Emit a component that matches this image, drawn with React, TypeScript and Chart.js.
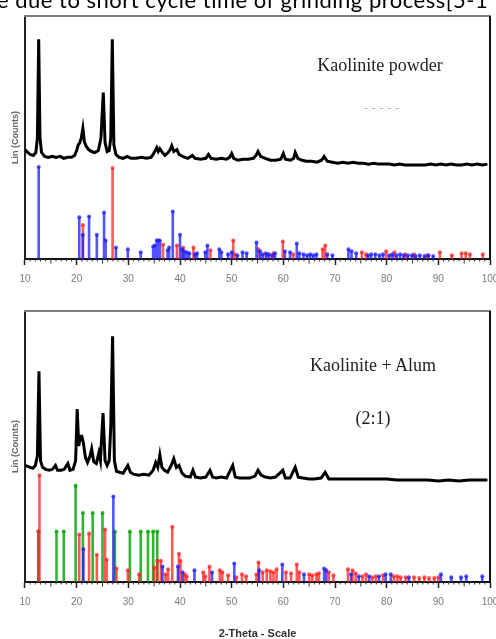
import React, { useEffect, useRef } from "react";
import { Chart, registerables } from "chart.js";
Chart.register(...registerables);

// ---------- DATA (2-Theta in degrees, intensity in arbitrary counts) ----------
const axisMin = 10;
const axisMax = 100;
const axisStep = 10;

const topCurveX = [10.0,10.5,11.0,11.6,12.1,12.4,12.65,12.9,13.2,13.8,14.5,15.3,16.0,16.8,17.5,18.3,19.0,19.6,20.0,20.3,20.6,20.9,21.2,21.5,21.8,22.3,22.9,23.5,24.2,24.7,25.15,25.5,25.9,26.3,26.6,26.9,27.2,27.6,28.2,29.0,29.8,30.5,31.5,32.5,33.5,34.4,34.9,35.5,35.8,36.1,36.6,37.1,37.7,38.1,38.4,38.8,39.4,39.8,40.5,41.5,42.4,42.9,44.0,45.0,45.5,46.0,47.0,48.0,49.0,49.6,50.0,50.4,51.2,52.2,53.2,54.2,54.7,55.1,55.6,56.5,57.5,58.5,59.5,60.0,60.4,61.4,62.0,62.3,62.8,63.6,64.5,65.5,66.5,67.4,67.9,68.5,69.5,70.5,71.5,72.5,73.5,74.5,75.5,76.5,77.5,78.5,79.5,80.5,81.5,82.5,83.5,84.5,85.5,86.5,87.5,88.5,89.5,90.5,91.5,92.5,93.5,94.5,95.5,96.5,97.5,98.5,99.5];
const topCurveY = [113,110,108,107,110,125,227,125,110,106,105,106,105,106,104,105,105,107,112,118,120,125,135,121,117,113,111,110,112,125,172,120,111,112,125,227,118,108,105,104,106,104,104,105,104,105,109,115,111,114,110,107,110,113,117,111,113,108,106,104,107,104,103,104,108,104,103,104,103,105,109,104,102,103,103,104,107,111,106,104,102,102,103,109,103,102,104,110,104,102,101,101,100,102,106,101,100,99,100,99,100,99,99,98,99,98,98,98,97,98,97,97,97,97,97,98,97,98,97,98,97,97,98,97,98,97,98];

const topBlueX = [12.65,20.5,21.2,22.4,23.9,25.3,25.6,27.6,29.9,32.4,34.8,35.1,35.5,35.8,36.1,37.6,37.9,38.6,40.0,40.4,40.8,41.3,41.8,42.9,43.3,44.9,45.3,47.6,48.0,49.3,50.0,51.1,52.1,52.9,54.8,55.5,56.0,56.6,57.2,57.8,58.4,60.3,61.3,62.6,63.1,63.9,64.6,65.2,65.8,66.4,68.5,69.5,72.6,73.2,74.1,76.4,77.0,77.8,78.6,79.3,80.5,81.1,81.9,82.6,83.3,84.1,84.9,85.6,86.4,87.3,88.1,89.0];
const topBlueH = [95,43,25,44,25,48,19,12,10,7,13,14,19,19,19,9,12,49,25,10,8,7,6,5,6,7,14,10,7,5,7,4,7,6,17,8,5,6,5,4,6,8,7,16,6,5,4,5,4,5,5,4,10,8,6,4,5,5,4,5,4,5,4,5,4,4,4,3,4,3,4,3];
const topRedX = [21.2,26.95,36.7,39.4,40.6,42.6,45.9,50.3,50.6,55.2,56.9,58.1,59.9,61.9,67.6,68.1,75.2,76.0,79.9,81.5,83.6,85.3,87.8,90.3,92.6,94.5,95.3,96.1,98.6];
const topRedH = [35,94,15,14,12,12,9,19,5,10,5,6,18,5,10,14,7,5,8,7,5,5,4,7,4,6,6,5,5];

const botCurveX = [10.0,10.5,11.0,11.5,12.0,12.4,12.7,13.0,13.4,14.0,14.7,15.3,15.9,16.3,17.0,17.6,18.3,18.7,19.3,19.8,20.1,20.4,20.7,21.0,21.3,21.7,22.1,22.6,22.9,23.3,23.8,24.3,24.6,25.1,25.5,25.9,26.3,26.6,26.95,27.3,27.7,28.3,29.0,29.9,30.4,31.0,32.0,33.0,34.0,34.8,35.3,35.7,36.1,36.5,37.0,37.6,38.3,38.8,39.3,39.8,40.4,41.0,42.0,42.5,43.0,44.0,45.0,45.8,46.3,47.0,48.0,49.0,50.2,50.7,51.5,52.5,53.5,54.5,55.1,55.7,56.5,57.5,58.5,59.9,60.4,61.3,62.3,62.9,63.8,65.0,66.0,67.3,68.1,68.8,70.0,72.0,74.0,76.0,78.0,80.0,82.0,84.0,86.0,88.0,90.0,92.0,94.0,96.0,98.0,99.5];
const botCurveY = [120,119,118,117,120,130,217,125,118,116,115,116,120,115,115,116,122,115,116,125,178,140,150,150,143,128,123,130,137,124,122,133,125,174,125,120,125,160,253,125,114,113,112,120,113,111,110,111,110,115,123,118,131,118,115,113,120,127,118,120,112,109,108,115,108,107,108,115,108,107,108,107,120,108,107,107,107,109,115,110,108,107,108,115,107,107,118,108,107,106,106,107,113,106,106,106,106,106,106,106,105,105,105,105,104,105,104,105,105,105];

const botRedX = [12.6,12.8,20.5,22.4,23.9,25.5,25.8,27.7,29.9,32.1,35.0,35.6,36.3,37.2,37.7,38.5,39.8,40.1,40.9,41.3,44.5,44.9,45.7,47.7,48.2,49.3,50.9,52.0,52.8,54.8,55.2,56.0,56.8,57.5,58.1,58.7,60.5,61.5,62.6,63.1,65.0,65.6,66.4,66.9,68.8,69.7,72.5,73.4,74.0,75.3,76.0,77.2,77.9,79.3,81.4,82.1,82.7,83.7,85.3,86.3,87.3,88.2,89.2,90.0];
const botRedH = [52,110,49,50,28,54,23,14,12,8,15,22,22,8,13,57,29,22,8,6,10,6,16,12,10,7,5,8,6,8,20,10,12,11,10,13,10,9,18,10,8,7,8,9,10,7,13,12,9,6,8,5,6,7,6,6,5,5,5,4,5,4,4,5];
const botGreenX = [12.6,16.1,17.5,19.8,21.2,23.1,25.0,27.4,30.3,32.4,33.8,34.8,35.6];
const botGreenH = [52,52,52,99,71,71,71,52,52,52,52,52,52];
const botBlueX = [21.3,27.1,36.6,39.6,40.5,42.8,46.2,50.5,55.3,59.8,64.0,67.9,68.3,73.1,74.6,76.6,78.5,79.8,80.8,84.3,90.5,92.5,94.4,95.4,98.5];
const botBlueH = [34,88,16,16,10,12,10,19,12,18,8,14,12,8,6,6,6,8,8,5,8,5,5,6,6];

// ---------- helpers ----------
const curve = (xs: number[], ys: number[]) => xs.map((x, i) => ({ x, y: ys[i] }));
const sticks = (xs: number[], hs: number[]) => {
  const out: { x: number; y: number | null }[] = [];
  xs.forEach((x, i) => {
    out.push({ x, y: 0 }, { x, y: hs[i] }, { x, y: null });
  });
  return out;
};
const stickSet = (xs: number[], hs: number[], color: string) => ({
  type: "line" as const,
  data: sticks(xs, hs),
  borderColor: color,
  backgroundColor: color,
  borderWidth: 2.6,
  spanGaps: false,
  tension: 0,
  pointRadius: (c: any) => (c.dataIndex % 3 === 1 ? 2 : 0),
  pointBorderWidth: 0,
  pointBackgroundColor: color,
});

const framePlugin = {
  id: "frame",
  afterDraw(chart: any) {
    const { ctx, chartArea } = chart;
    const { left, right, top, bottom } = chartArea;
    const x = chart.scales.x;
    ctx.save();
    ctx.strokeStyle = "#7c7c7c";
    ctx.lineWidth = 2;
    ctx.beginPath();
    ctx.moveTo(left - 1, top);
    ctx.lineTo(right + 1, top);
    ctx.stroke();
    ctx.strokeStyle = "#111";
    ctx.lineWidth = 2;
    ctx.beginPath();
    ctx.moveTo(right, top);
    ctx.lineTo(right, bottom);
    ctx.stroke();
    ctx.strokeStyle = "#333";
    ctx.lineWidth = 1;
    for (let d = axisMin + 1; d < axisMax; d++) {
      if (d % axisStep === 0) continue;
      const len = d % 5 === 0 ? 4.5 : 2.5;
      const px = x.getPixelForValue(d);
      ctx.beginPath();
      ctx.moveTo(px, bottom);
      ctx.lineTo(px, bottom + len);
      ctx.stroke();
    }
    ctx.restore();
  },
};

function makeConfig(datasets: any[], yMax: number, padding: any, showXTitle: boolean): any {
  return {
    type: "line",
    data: { datasets },
    options: {
      animation: false,
      responsive: false,
      devicePixelRatio: 1,
      layout: { padding },
      plugins: { legend: { display: false }, tooltip: { enabled: false } },
      scales: {
        x: {
          type: "linear",
          min: axisMin,
          max: axisMax,
          ticks: {
            stepSize: axisStep,
            maxRotation: 0,
            autoSkip: false,
            padding: 8,
            color: "#7a7a7a",
            font: { family: "Liberation Sans", size: 10 },
          },
          grid: { display: true, drawOnChartArea: false, drawTicks: true, tickLength: 6, color: "#222", tickWidth: 1.5 },
          border: { display: true, color: "#111", width: 2 },
          title: {
            display: showXTitle,
            text: "2-Theta - Scale",
            color: "#333",
            font: { family: "Liberation Sans", size: 11, weight: "bold" },
            padding: { top: 11, bottom: 3 },
          },
        },
        y: {
          type: "linear",
          min: 0,
          max: yMax,
          ticks: { display: false },
          grid: { display: false, drawTicks: false },
          border: { display: true, color: "#222", width: 2 },
          title: {
            display: true,
            text: "Lin (Counts)",
            color: "#666",
            font: { family: "Liberation Sans", size: 9, weight: "bold" },
            padding: 4,
          },
        },
      },
    },
    plugins: [framePlugin],
  };
}

const RED = "rgba(255,25,25,0.72)";
const BLUE = "rgba(25,25,255,0.75)";
const GREEN = "rgba(0,160,0,0.8)";

export default function App() {
  const topRef = useRef<HTMLCanvasElement>(null);
  const botRef = useRef<HTMLCanvasElement>(null);

  useEffect(() => {
    const curveStyle = { borderColor: "#000", borderWidth: 3, pointRadius: 0, tension: 0 };
    const top = new Chart(
      topRef.current as HTMLCanvasElement,
      makeConfig(
        [
          { data: curve(topCurveX, topCurveY), ...curveStyle },
          stickSet(topBlueX, topBlueH, BLUE),
          stickSet(topRedX, topRedH, RED),
        ],
        251,
        { left: 6.2, right: 30, top: 16, bottom: 7 },
        false
      )
    );
    const bot = new Chart(
      botRef.current as HTMLCanvasElement,
      makeConfig(
        [
          { data: curve(botCurveX, botCurveY), ...curveStyle },
          stickSet(botBlueX, botBlueH, BLUE),
          stickSet(botRedX, botRedH, RED),
          stickSet(botGreenX, botGreenH, GREEN),
        ],
        279,
        { left: 6.2, right: 30, top: 11, bottom: 6.8 },
        true
      )
    );
    return () => {
      top.destroy();
      bot.destroy();
    };
  }, []);

  const serif: React.CSSProperties = {
    position: "absolute",
    fontFamily: "'Liberation Serif', serif",
    fontSize: 18,
    color: "#222",
    whiteSpace: "nowrap",
    transform: "translate(-50%, -50%)",
    lineHeight: "20px",
  };

  return (
    <div style={{ position: "fixed", left: 0, top: 0, width: 496, height: 639, overflow: "hidden", background: "#fff" }}>
      <canvas ref={topRef} width={520} height={300} style={{ position: "absolute", left: 0, top: 0, width: 520, height: 300 }} />
      <canvas ref={botRef} width={520} height={350} style={{ position: "absolute", left: 0, top: 300, width: 520, height: 350 }} />
      <div
        style={{
          position: "absolute",
          left: -3,
          top: -11.5,
          fontFamily: "Lato, 'Open Sans', sans-serif",
          fontSize: 22,
          letterSpacing: 0.5,
          lineHeight: "22px",
          color: "#000",
          whiteSpace: "nowrap",
        }}
      >
        e due to short cycle time of grinding process[5-1
      </div>
      <div style={{ ...serif, left: 380, top: 65 }}>Kaolinite powder</div>
      <div style={{ ...serif, left: 382, top: 108, fontSize: 10, color: "#888", letterSpacing: 1 }}>- - - - -</div>
      <div style={{ ...serif, left: 373, top: 365 }}>Kaolinite + Alum</div>
      <div style={{ ...serif, left: 373, top: 418 }}>(2:1)</div>
    </div>
  );
}
